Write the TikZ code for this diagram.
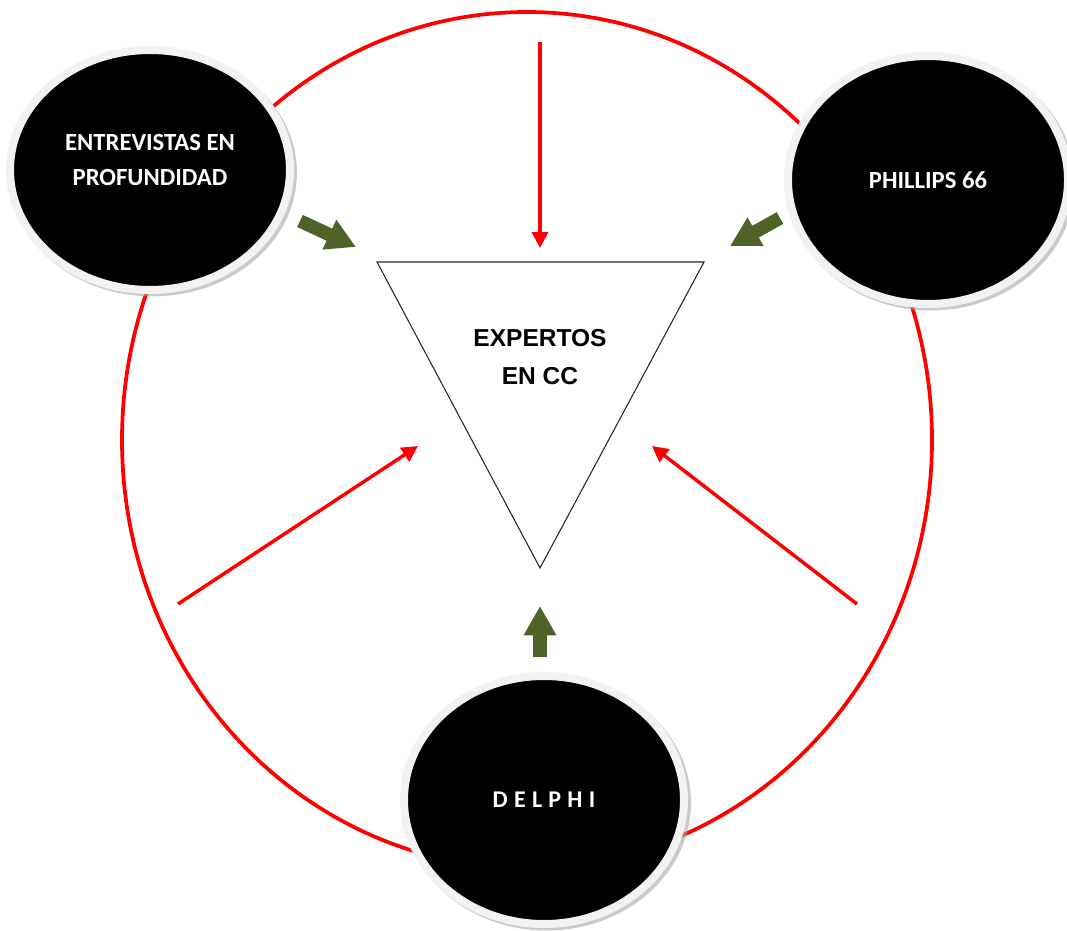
\documentclass[tikz,border=0pt]{standalone}
\usepackage{fontspec}
\setmainfont{Carlito}
\newfontfamily\arialfont{Liberation Sans}
\usetikzlibrary{arrows.meta,shapes.geometric,shadows}
\definecolor{olivegreen}{RGB}{79,98,40}
\definecolor{halogray}{RGB}{242,242,242}

\begin{document}
\begin{tikzpicture}[x=0.75pt,y=0.75pt,yscale=-1,
	bubble/.style={ellipse,fill=black,draw=halogray,line width=6pt,minimum width=210pt,minimum height=186pt,drop shadow={shadow xshift=2pt,shadow yshift=-2pt,shadow scale=1.03,fill=gray!70,opacity=0.6}},
	bubbletext/.style={text=white,font=\bfseries\fontsize{18.5}{26}\selectfont,align=center,inner sep=0.75pt},
	ring/.style={draw=red,line width=2.8pt},
	redarrow/.style={draw=red,line width=2.6pt,-{Triangle[width=12pt,length=12pt]}},
	greenarrow/.style={draw=olivegreen,line width=10pt,-{Triangle[width=23pt,length=22pt]}}]
	\useasboundingbox (0,0) rectangle (1067,931);
	\coordinate (ringc) at (527,440);
	\draw[ring] (ringc) ellipse [x radius=405, y radius=428];
	\node[bubble,minimum height=180pt] (entrev) at (150,170) {};
	\node[bubble] (phillips) at (928,180) {};
	\node[bubble] (delphi) at (544,800) {};
	\node[bubbletext] (entrevlabel) at (150,160) {ENTREVISTAS EN\\PROFUNDIDAD};
	\node[bubbletext] (phillipslabel) at (phillips) {PHILLIPS 66};
	\node[bubbletext,font=\bfseries\fontsize{18}{22}\selectfont] (delphilabel) at (delphi) {D\kern4.7pt E\kern4.7pt L\kern4.7pt P\kern4.7pt H\kern4.7pt I};
	\coordinate (tl) at (377,262);
	\coordinate (tr) at (704,262);
	\coordinate (tb) at (540,568);
	\draw[line width=0.8pt,black!85] (tl) -- (tr) -- (tb) -- cycle;
	\node[font=\arialfont\bfseries\fontsize{18.4}{29}\selectfont,align=center,inner sep=0.75pt] (expertos) at (540,357) {EXPERTOS\\EN CC};
	\coordinate (topstart) at (540,42);
	\coordinate (topend) at (540,248);
	\coordinate (leftstart) at (178,604);
	\coordinate (leftend) at (418,446);
	\coordinate (rightstart) at (857,604);
	\coordinate (rightend) at (652,446);
	\draw[redarrow] (topstart) -- (topend);
	\draw[redarrow] (leftstart) -- (leftend);
	\draw[redarrow] (rightstart) -- (rightend);
	\coordinate (entrevout) at (300,221);
	\coordinate (entrevin) at (356,247);
	\coordinate (phillipsout) at (780,218);
	\coordinate (phillipsin) at (730,246);
	\coordinate (delphiout) at (540,657);
	\coordinate (delphiin) at (540,606);
	\draw[greenarrow] (entrevout) -- (entrevin);
	\draw[greenarrow] (phillipsout) -- (phillipsin);
	\draw[greenarrow] (delphiout) -- (delphiin);
\end{tikzpicture}
\end{document}
